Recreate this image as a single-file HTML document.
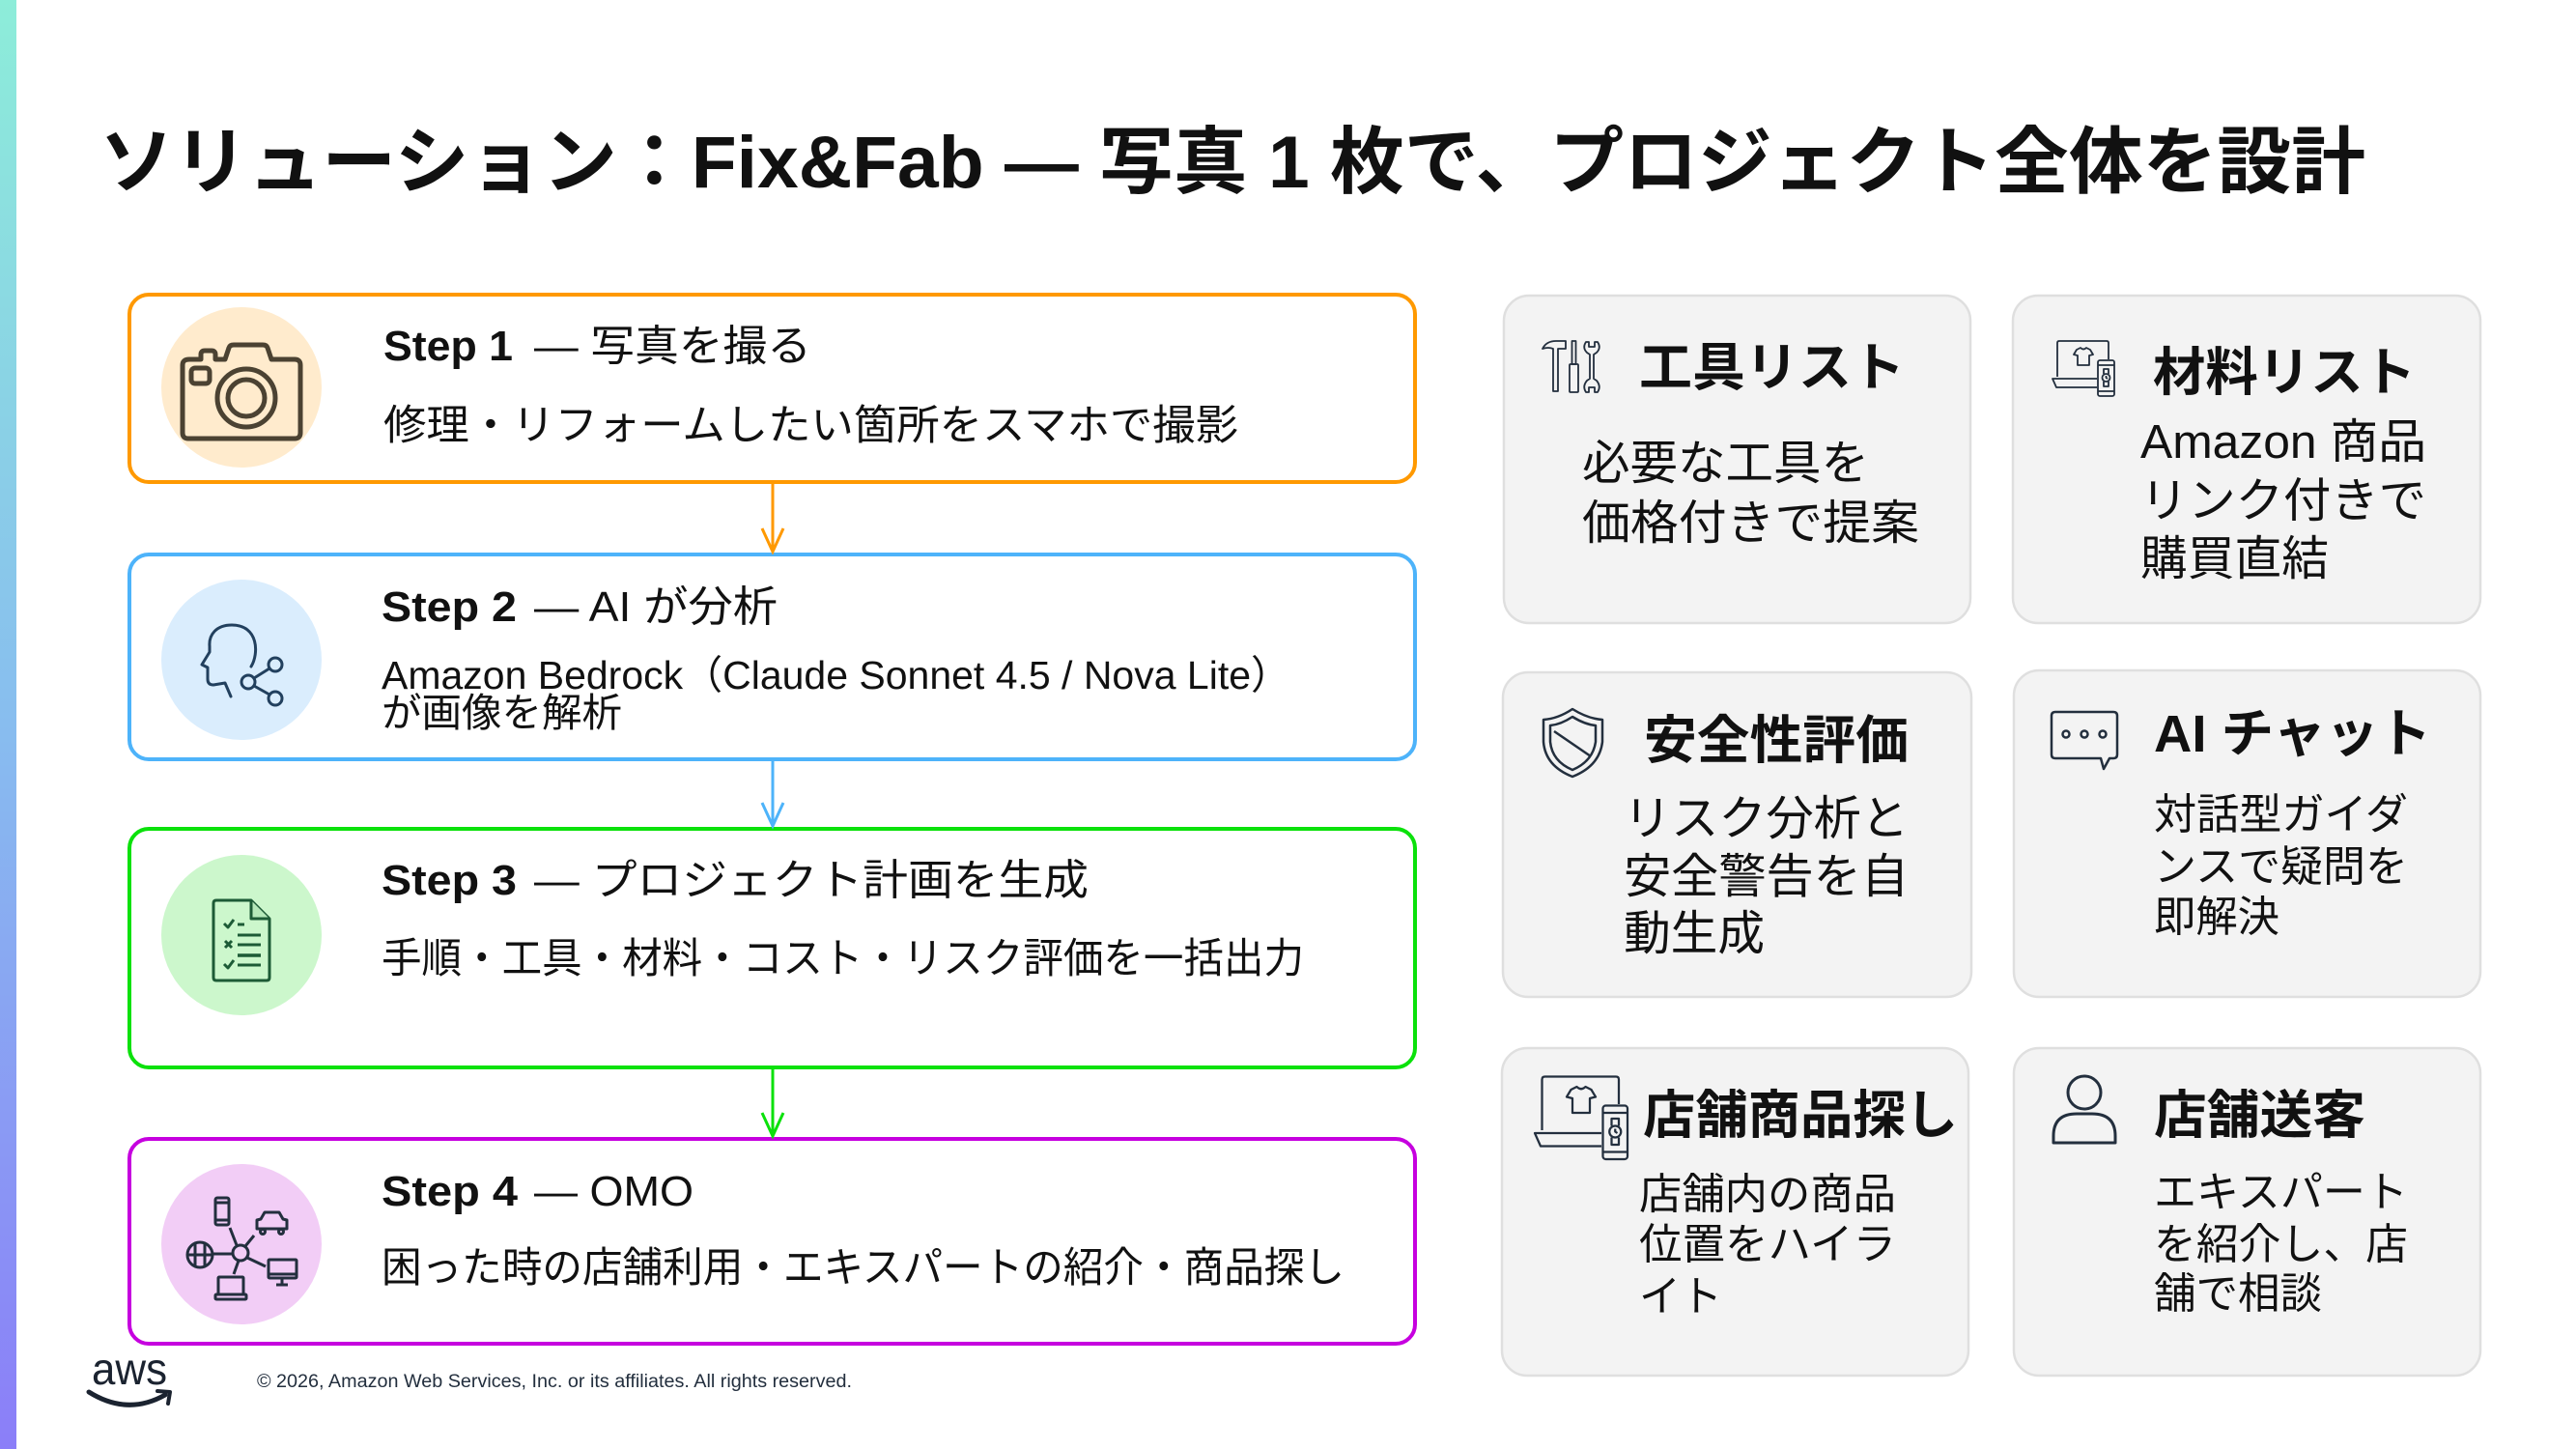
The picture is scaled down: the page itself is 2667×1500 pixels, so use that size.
<!DOCTYPE html>
<html><head><meta charset="utf-8"><style>
html,body{margin:0;padding:0;background:#fff;width:2667px;height:1500px;overflow:hidden}
svg{display:block}
text{font-family:"Liberation Sans","Noto Sans CJK JP",sans-serif;fill:#111}
</style></head><body>
<svg width="2667" height="1500" viewBox="0 0 2667 1500" xmlns="http://www.w3.org/2000/svg">
<defs>
<linearGradient id="bar" x1="0" y1="0" x2="0" y2="1">
<stop offset="0" stop-color="#8DEDD9"/><stop offset="0.5" stop-color="#88BDEF"/><stop offset="1" stop-color="#8B7EF8"/>
</linearGradient>
</defs>
<rect x="0" y="0" width="2667" height="1500" fill="#fff"/>
<rect x="0" y="0" width="17" height="1500" fill="url(#bar)"/>

<!-- Title -->
<text x="103" y="194" font-size="76" font-weight="bold" textLength="2346" lengthAdjust="spacingAndGlyphs">ソリューション：Fix&amp;Fab — 写真 1 枚で、プロジェクト全体を設計</text>

<!-- Step boxes -->
<rect x="134" y="305" width="1331" height="194" rx="20" fill="#fff" stroke="#FF9900" stroke-width="4"/>
<rect x="134" y="574" width="1331" height="212" rx="20" fill="#fff" stroke="#4DB3FA" stroke-width="4"/>
<rect x="134" y="858" width="1331" height="247" rx="20" fill="#fff" stroke="#0BE10B" stroke-width="4"/>
<rect x="134" y="1179" width="1331" height="212" rx="20" fill="#fff" stroke="#C600DF" stroke-width="4"/>

<!-- Connectors -->
<line x1="800" y1="501" x2="800" y2="570" stroke="#FF9900" stroke-width="3"/>
<polyline points="789,547 800,571 811,547" fill="none" stroke="#FF9900" stroke-width="3"/>
<line x1="800" y1="788" x2="800" y2="854" stroke="#4DB3FA" stroke-width="3"/>
<polyline points="789,831 800,855 811,831" fill="none" stroke="#4DB3FA" stroke-width="3"/>
<line x1="800" y1="1107" x2="800" y2="1175" stroke="#0BE10B" stroke-width="3"/>
<polyline points="789,1152 800,1176 811,1152" fill="none" stroke="#0BE10B" stroke-width="3"/>

<!-- Circles -->
<circle cx="250" cy="401" r="83" fill="#FFEBCD"/>
<circle cx="250" cy="683" r="83" fill="#DAEDFD"/>
<circle cx="250" cy="968" r="83" fill="#CCF7CC"/>
<circle cx="250" cy="1288" r="83" fill="#F2CDF6"/>

<!-- Camera icon -->
<g fill="none" stroke="#4B4232" stroke-width="5" stroke-linejoin="round">
<path d="M196 372 L208 372 L208 367 Q208 363 212 363 L219 363 Q223 363 223 367 L223 372 L233 372 L237 360 Q238 357 242 357 L272 357 Q276 357 277 360 L281 372 L305 372 Q311 372 311 378 L311 448 Q311 454 305 454 L195 454 Q189 454 189 448 L189 378 Q189 372 196 372 Z"/>
<rect x="198" y="381" width="19" height="16" rx="4"/>
<circle cx="255" cy="412" r="30"/>
<circle cx="255" cy="412" r="19"/>
</g>

<!-- Head/share icon -->
<g transform="translate(160,595)" fill="none" stroke="#22405E" stroke-width="3" stroke-linejoin="round" stroke-linecap="round">
<path d="M100 95 C108 82 108 52 80 52 C64 52 56 62 57 74 L57 80 L49 93 L55 96 L55 108 Q55 114 61 114 L73 112 L79 126"/>
<circle cx="125" cy="93" r="7"/>
<circle cx="97" cy="111" r="7"/>
<circle cx="125" cy="128" r="7"/>
<line x1="103" y1="107" x2="119" y2="97"/>
<line x1="103" y1="115" x2="119" y2="124"/>
</g>

<!-- Checklist icon -->
<g transform="translate(160,880)" fill="none" stroke="#1D5B36" stroke-width="3" stroke-linejoin="round">
<path d="M61 55 Q61 52 64 52 L100 52 L119 71 L119 132 Q119 135 116 135 L64 135 Q61 135 61 132 Z"/>
<path d="M100 52 L100 71 L119 71" fill="#B5E8B9"/>
<path d="M72 76 L76 80 L82 72"/>
<line x1="86" y1="77" x2="93" y2="77"/>
<line x1="73" y1="94" x2="80" y2="101"/><line x1="80" y1="94" x2="73" y2="101"/>
<line x1="86" y1="88" x2="110" y2="88"/>
<line x1="86" y1="98" x2="110" y2="98"/>
<line x1="86" y1="109" x2="110" y2="109" stroke-width="3.5"/>
<path d="M72 118 L76 122 L82 114"/>
<line x1="86" y1="119" x2="110" y2="119"/>
</g>

<!-- Network icon -->
<g transform="translate(160,1200)" fill="none" stroke="#232F3E" stroke-width="3" stroke-linejoin="round">
<circle cx="89" cy="97" r="8"/>
<rect x="63" y="40" width="14" height="28" rx="2"/>
<line x1="63" y1="45" x2="77" y2="45"/><line x1="63" y1="63" x2="77" y2="63"/>
<line x1="85" y1="89" x2="78" y2="71"/>
<path d="M106 72 L106 63 L110 62 L114 55 L129 55 L133 62 L137 63 L137 72 Z"/>
<circle cx="112" cy="75" r="2.5"/><circle cx="131" cy="75" r="2.5"/>
<line x1="94" y1="90" x2="103" y2="79"/>
<circle cx="47" cy="99" r="13"/>
<line x1="34" y1="99" x2="60" y2="99"/>
<line x1="42" y1="87" x2="42" y2="111"/><line x1="52" y1="87" x2="52" y2="111"/>
<line x1="60" y1="98" x2="81" y2="98"/>
<rect x="118" y="104" width="29" height="19" rx="1"/>
<line x1="118" y1="119" x2="147" y2="119"/>
<line x1="132" y1="123" x2="132" y2="129"/><line x1="126" y1="130" x2="138" y2="130"/>
<line x1="96" y1="102" x2="115" y2="111"/>
<rect x="66" y="122" width="26" height="18" rx="1"/>
<rect x="63" y="140" width="32" height="5" rx="1"/>
<line x1="87" y1="105" x2="82" y2="119"/>
</g>

<!-- Step texts -->
<text x="397" y="373" font-size="44" font-weight="bold" textLength="134" lengthAdjust="spacingAndGlyphs">Step 1</text>
<text x="553" y="373" font-size="44" textLength="287" lengthAdjust="spacingAndGlyphs">— 写真を撮る</text>
<text x="397" y="455" font-size="43" textLength="885" lengthAdjust="spacingAndGlyphs">修理・リフォームしたい箇所をスマホで撮影</text>

<text x="395" y="643" font-size="44" font-weight="bold" textLength="140" lengthAdjust="spacingAndGlyphs">Step 2</text>
<text x="553" y="643" font-size="44" textLength="252" lengthAdjust="spacingAndGlyphs">— AI が分析</text>
<text x="395" y="713" font-size="41" textLength="941" lengthAdjust="spacingAndGlyphs">Amazon Bedrock（Claude Sonnet 4.5 / Nova Lite）</text>
<text x="395" y="752" font-size="41" textLength="249" lengthAdjust="spacingAndGlyphs">が画像を解析</text>

<text x="395" y="926" font-size="44" font-weight="bold" textLength="140" lengthAdjust="spacingAndGlyphs">Step 3</text>
<text x="553" y="926" font-size="44" textLength="574" lengthAdjust="spacingAndGlyphs">— プロジェクト計画を生成</text>
<text x="395" y="1007" font-size="43" textLength="955" lengthAdjust="spacingAndGlyphs">手順・工具・材料・コスト・リスク評価を一括出力</text>

<text x="395" y="1248" font-size="44" font-weight="bold" textLength="141" lengthAdjust="spacingAndGlyphs">Step 4</text>
<text x="553" y="1248" font-size="44" textLength="165" lengthAdjust="spacingAndGlyphs">— OMO</text>
<text x="395" y="1327" font-size="43" textLength="997" lengthAdjust="spacingAndGlyphs">困った時の店舗利用・エキスパートの紹介・商品探し</text>

<!-- Cards -->
<g fill="#F3F3F3" stroke="#DFDFDF" stroke-width="2.5">
<rect x="1557" y="306" width="483" height="339" rx="26"/>
<rect x="2084" y="306" width="484" height="339" rx="26"/>
<rect x="1556" y="696" width="485" height="336" rx="26"/>
<rect x="2085" y="694" width="483" height="338" rx="26"/>
<rect x="1555" y="1085" width="483" height="339" rx="26"/>
<rect x="2085" y="1085" width="483" height="339" rx="26"/>
</g>

<!-- Tools icon -->
<g transform="translate(1585,340)" fill="none" stroke="#232F3E" stroke-width="1.8" stroke-linejoin="round">
<path d="M12 21 Q16 13 26 13 L36 13 L36 21 L28 21 L28 65 L23 65 L23 21 Q18 19 12 21 Z"/>
<rect x="42.5" y="13" width="4" height="24"/>
<rect x="40" y="37" width="9" height="29" rx="1"/>
<path d="M57 14 Q53 20 58 25 L61 27 L61 52 L58 54 Q53 60 57 66 L60 66 L60 61 L66 61 L66 66 L69 66 Q73 60 68 54 L65 52 L65 27 L68 25 Q73 20 69 14 L66 14 L66 19 L60 19 L60 14 Z"/>
</g>

<!-- Material icon -->
<g id="mat" transform="translate(2115,340)" fill="none" stroke="#232F3E" stroke-width="1.8" stroke-linejoin="round">
<path d="M15 50 L15 15 Q15 13 17 13 L66 13 Q68 13 68 15 L68 32"/>
<path d="M56 52 L10 52 L14 61 L56 61"/>
<path d="M35 22 L39 20 Q42 23 45 20 L49 22 L52 27 L48 28 L48 38 L36 38 L36 28 L32 27 Z"/>
<rect x="57" y="33" width="17" height="37" rx="2"/>
<line x1="57" y1="38" x2="74" y2="38"/><line x1="57" y1="65" x2="74" y2="65"/>
<circle cx="65.5" cy="51" r="4"/>
<path d="M63 47 L63 42 L68 42 L68 47 M63 55 L63 60 L68 60 L68 55"/>
<path d="M65.5 49 L65.5 51 L67 52"/>
</g>

<!-- Store item icon (scaled) -->
<g transform="translate(1574,1095) scale(1.5)" fill="none" stroke="#232F3E" stroke-width="1.5" stroke-linejoin="round">
<path d="M15 50 L15 15 Q15 13 17 13 L66 13 Q68 13 68 15 L68 32"/>
<path d="M56 52 L10 52 L14 61 L56 61"/>
<path d="M35 22 L39 20 Q42 23 45 20 L49 22 L52 27 L48 28 L48 38 L36 38 L36 28 L32 27 Z"/>
<rect x="57" y="33" width="17" height="37" rx="2"/>
<line x1="57" y1="38" x2="74" y2="38"/><line x1="57" y1="65" x2="74" y2="65"/>
<circle cx="65.5" cy="51" r="4"/>
<path d="M63 47 L63 42 L68 42 L68 47 M63 55 L63 60 L68 60 L68 55"/>
<path d="M65.5 49 L65.5 51 L67 52"/>
</g>

<!-- Shield icon -->
<g fill="none" stroke="#232F3E" stroke-width="2.5" stroke-linejoin="round">
<path d="M1628 734 Q1613 744 1598 745 L1598 768 Q1600 793 1628 804 Q1656 793 1659 768 L1659 745 Q1644 744 1628 734 Z"/>
<path d="M1628 742 Q1616 750 1605 751 L1605 768 Q1607 788 1628 797 Q1649 788 1652 768 L1652 751 Q1641 750 1628 742 Z"/>
<line x1="1609" y1="757" x2="1647" y2="783"/>
</g>

<!-- Chat icon -->
<g fill="none" stroke="#232F3E" stroke-width="2.5" stroke-linejoin="round">
<path d="M2128 737 L2188 737 Q2192 737 2192 741 L2192 781 Q2192 785 2188 785 L2184 785 L2178 796 L2175 785 L2128 785 Q2124 785 2124 781 L2124 741 Q2124 737 2128 737 Z"/>
<circle cx="2139" cy="760" r="3.5"/><circle cx="2158" cy="760" r="3.5"/><circle cx="2177" cy="760" r="3.5"/>
</g>

<!-- Person icon -->
<g fill="none" stroke="#232F3E" stroke-width="3" stroke-linejoin="round">
<circle cx="2158" cy="1131" r="17"/>
<path d="M2126 1183 L2126 1176 Q2126 1153 2150 1153 L2166 1153 Q2190 1153 2190 1176 L2190 1183 Z"/>
</g>

<!-- Card texts -->
<text x="1697" y="399" font-size="54" font-weight="bold" textLength="275" lengthAdjust="spacingAndGlyphs">工具リスト</text>
<text x="1638" y="496" font-size="49" textLength="297" lengthAdjust="spacingAndGlyphs">必要な工具を</text>
<text x="1638" y="558" font-size="49" textLength="349" lengthAdjust="spacingAndGlyphs">価格付きで提案</text>

<text x="2229" y="404" font-size="54" font-weight="bold" textLength="272" lengthAdjust="spacingAndGlyphs">材料リスト</text>
<text x="2216" y="474" font-size="49" textLength="296" lengthAdjust="spacingAndGlyphs">Amazon 商品</text>
<text x="2216" y="535" font-size="49" textLength="296" lengthAdjust="spacingAndGlyphs">リンク付きで</text>
<text x="2216" y="595" font-size="49" textLength="195" lengthAdjust="spacingAndGlyphs">購買直結</text>

<text x="1702" y="785" font-size="54" font-weight="bold" textLength="274" lengthAdjust="spacingAndGlyphs">安全性評価</text>
<text x="1681" y="864" font-size="49" textLength="295" lengthAdjust="spacingAndGlyphs">リスク分析と</text>
<text x="1681" y="924" font-size="49" textLength="295" lengthAdjust="spacingAndGlyphs">安全警告を自</text>
<text x="1681" y="983" font-size="49" textLength="146" lengthAdjust="spacingAndGlyphs">動生成</text>

<text x="2230" y="778" font-size="54" font-weight="bold" textLength="287" lengthAdjust="spacingAndGlyphs">AI チャット</text>
<text x="2230" y="858" font-size="44" textLength="263" lengthAdjust="spacingAndGlyphs">対話型ガイダ</text>
<text x="2230" y="912" font-size="44" textLength="263" lengthAdjust="spacingAndGlyphs">ンスで疑問を</text>
<text x="2230" y="964" font-size="44" textLength="130" lengthAdjust="spacingAndGlyphs">即解決</text>

<text x="1701" y="1173" font-size="54" font-weight="bold" textLength="326" lengthAdjust="spacingAndGlyphs">店舗商品探し</text>
<text x="1697" y="1251" font-size="44" textLength="266" lengthAdjust="spacingAndGlyphs">店舗内の商品</text>
<text x="1697" y="1303" font-size="44" textLength="266" lengthAdjust="spacingAndGlyphs">位置をハイラ</text>
<text x="1697" y="1357" font-size="44" textLength="86" lengthAdjust="spacingAndGlyphs">イト</text>

<text x="2230" y="1173" font-size="54" font-weight="bold" textLength="219" lengthAdjust="spacingAndGlyphs">店舗送客</text>
<text x="2230" y="1249" font-size="44" textLength="263" lengthAdjust="spacingAndGlyphs">エキスパート</text>
<text x="2230" y="1303" font-size="44" textLength="263" lengthAdjust="spacingAndGlyphs">を紹介し、店</text>
<text x="2230" y="1354" font-size="44" textLength="174" lengthAdjust="spacingAndGlyphs">舗で相談</text>

<!-- Footer -->
<text x="95" y="1433" font-size="46" textLength="78" lengthAdjust="spacingAndGlyphs" style="fill:#1B2330">aws</text>
<path d="M92 1441 Q132 1466 171 1444" fill="none" stroke="#1B2330" stroke-width="5" stroke-linecap="round"/>
<path d="M163 1440 L176 1441 L174 1453" fill="none" stroke="#1B2330" stroke-width="4" stroke-linecap="round" stroke-linejoin="round"/>
<text x="266" y="1436" font-size="19" textLength="616" lengthAdjust="spacingAndGlyphs" style="fill:#232F3E">© 2026, Amazon Web Services, Inc. or its affiliates. All rights reserved.</text>
</svg>
</body></html>
